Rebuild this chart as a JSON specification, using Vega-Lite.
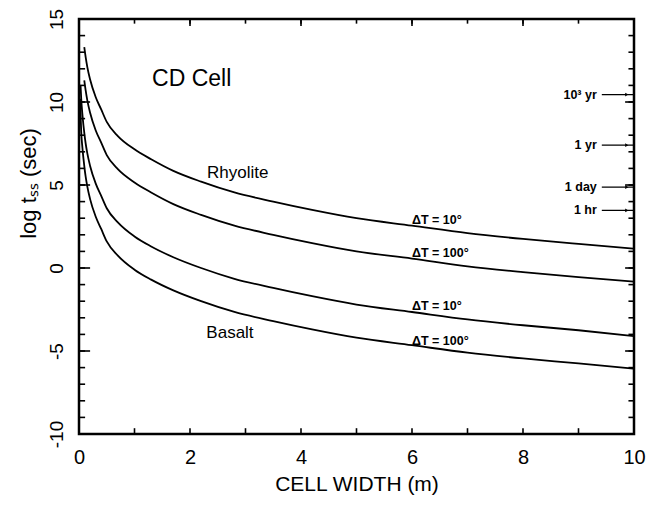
{
  "$schema": "https://vega.github.io/schema/vega-lite/v6.json",
  "width": 555,
  "height": 415,
  "autosize": "none",
  "padding": {"left": 79, "top": 19, "right": 20, "bottom": 71},
  "background": "white",
  "config": {
    "view": {"stroke": "black", "strokeWidth": 2.5},
    "font": "Liberation Sans",
    "axis": {"grid": false, "domain": false, "ticks": false, "labelColor": "black", "titleColor": "black", "labelFlush": false, "labelOverlap": false}
  },
  "datasets": {
    "curves": [
      {"series": "R10", "x": 0.095, "y": 13.3}, {"series": "R10", "x": 0.12, "y": 12.7}, {"series": "R10", "x": 0.15, "y": 12.1}, {"series": "R10", "x": 0.2, "y": 11.35}, {"series": "R10", "x": 0.3, "y": 10.3}, {"series": "R10", "x": 0.4, "y": 9.55}, {"series": "R10", "x": 0.5, "y": 8.8}, {"series": "R10", "x": 0.7, "y": 7.95}, {"series": "R10", "x": 1.0, "y": 7.15}, {"series": "R10", "x": 1.3, "y": 6.55}, {"series": "R10", "x": 1.7, "y": 5.85}, {"series": "R10", "x": 2.2, "y": 5.2}, {"series": "R10", "x": 2.8, "y": 4.55}, {"series": "R10", "x": 3.5, "y": 4.0}, {"series": "R10", "x": 4.2, "y": 3.5}, {"series": "R10", "x": 5, "y": 3.0}, {"series": "R10", "x": 6, "y": 2.55}, {"series": "R10", "x": 7, "y": 2.1}, {"series": "R10", "x": 8, "y": 1.75}, {"series": "R10", "x": 9, "y": 1.45}, {"series": "R10", "x": 10, "y": 1.17},
      {"series": "R100", "x": 0.095, "y": 11.3}, {"series": "R100", "x": 0.12, "y": 10.7}, {"series": "R100", "x": 0.15, "y": 10.1}, {"series": "R100", "x": 0.2, "y": 9.35}, {"series": "R100", "x": 0.3, "y": 8.3}, {"series": "R100", "x": 0.4, "y": 7.55}, {"series": "R100", "x": 0.5, "y": 6.8}, {"series": "R100", "x": 0.7, "y": 5.95}, {"series": "R100", "x": 1.0, "y": 5.15}, {"series": "R100", "x": 1.3, "y": 4.55}, {"series": "R100", "x": 1.7, "y": 3.85}, {"series": "R100", "x": 2.2, "y": 3.2}, {"series": "R100", "x": 2.8, "y": 2.55}, {"series": "R100", "x": 3.5, "y": 2.0}, {"series": "R100", "x": 4.2, "y": 1.5}, {"series": "R100", "x": 5, "y": 1.0}, {"series": "R100", "x": 6, "y": 0.57}, {"series": "R100", "x": 7, "y": 0.1}, {"series": "R100", "x": 8, "y": -0.25}, {"series": "R100", "x": 9, "y": -0.55}, {"series": "R100", "x": 10, "y": -0.82},
      {"series": "B10", "x": 0.028, "y": 11.0}, {"series": "B10", "x": 0.04, "y": 10.2}, {"series": "B10", "x": 0.06, "y": 9.3}, {"series": "B10", "x": 0.08, "y": 8.6}, {"series": "B10", "x": 0.1, "y": 8.0}, {"series": "B10", "x": 0.12, "y": 7.5}, {"series": "B10", "x": 0.15, "y": 6.9}, {"series": "B10", "x": 0.2, "y": 6.15}, {"series": "B10", "x": 0.3, "y": 5.1}, {"series": "B10", "x": 0.4, "y": 4.35}, {"series": "B10", "x": 0.5, "y": 3.6}, {"series": "B10", "x": 0.7, "y": 2.75}, {"series": "B10", "x": 1.0, "y": 1.9}, {"series": "B10", "x": 1.3, "y": 1.3}, {"series": "B10", "x": 1.7, "y": 0.65}, {"series": "B10", "x": 2.2, "y": 0.0}, {"series": "B10", "x": 2.8, "y": -0.65}, {"series": "B10", "x": 3.5, "y": -1.2}, {"series": "B10", "x": 4.2, "y": -1.7}, {"series": "B10", "x": 5, "y": -2.2}, {"series": "B10", "x": 6, "y": -2.65}, {"series": "B10", "x": 7, "y": -3.1}, {"series": "B10", "x": 8, "y": -3.45}, {"series": "B10", "x": 9, "y": -3.75}, {"series": "B10", "x": 10, "y": -4.1},
      {"series": "B100", "x": 0.02, "y": 10.2}, {"series": "B100", "x": 0.03, "y": 9.1}, {"series": "B100", "x": 0.04, "y": 8.2}, {"series": "B100", "x": 0.06, "y": 7.3}, {"series": "B100", "x": 0.08, "y": 6.6}, {"series": "B100", "x": 0.1, "y": 6.0}, {"series": "B100", "x": 0.12, "y": 5.5}, {"series": "B100", "x": 0.15, "y": 4.9}, {"series": "B100", "x": 0.2, "y": 4.15}, {"series": "B100", "x": 0.3, "y": 3.1}, {"series": "B100", "x": 0.4, "y": 2.35}, {"series": "B100", "x": 0.5, "y": 1.6}, {"series": "B100", "x": 0.7, "y": 0.75}, {"series": "B100", "x": 1.0, "y": -0.1}, {"series": "B100", "x": 1.3, "y": -0.7}, {"series": "B100", "x": 1.7, "y": -1.35}, {"series": "B100", "x": 2.2, "y": -2.0}, {"series": "B100", "x": 2.8, "y": -2.65}, {"series": "B100", "x": 3.5, "y": -3.2}, {"series": "B100", "x": 4.2, "y": -3.7}, {"series": "B100", "x": 5, "y": -4.2}, {"series": "B100", "x": 6, "y": -4.65}, {"series": "B100", "x": 7, "y": -5.1}, {"series": "B100", "x": 8, "y": -5.45}, {"series": "B100", "x": 9, "y": -5.75}, {"series": "B100", "x": 10, "y": -6.07}
    ],
    "xticks": [{"v": 1}, {"v": 2}, {"v": 3}, {"v": 4}, {"v": 5}, {"v": 6}, {"v": 7}, {"v": 8}, {"v": 9}],
    "yticks": [{"v": -9}, {"v": -8}, {"v": -7}, {"v": -6}, {"v": -5}, {"v": -4}, {"v": -3}, {"v": -2}, {"v": -1}, {"v": 0}, {"v": 1}, {"v": 2}, {"v": 3}, {"v": 4}, {"v": 5}, {"v": 6}, {"v": 7}, {"v": 8}, {"v": 9}, {"v": 10}, {"v": 11}, {"v": 12}, {"v": 13}, {"v": 14}],
    "title": [{"text": "CD Cell", "x": 2.03, "y": 11.4}],
    "rocks": [{"text": "Rhyolite", "x": 2.86, "y": 5.7}, {"text": "Basalt", "x": 2.72, "y": -3.9}],
    "dt": [
      {"text": "ΔT = 10°", "x": 6.0, "y": 2.9},
      {"text": "ΔT = 100°", "x": 6.0, "y": 0.9},
      {"text": "ΔT = 10°", "x": 6.0, "y": -2.27},
      {"text": "ΔT = 100°", "x": 6.0, "y": -4.37}
    ],
    "times": [
      {"text": "10³ yr", "y": 10.45},
      {"text": "1 yr", "y": 7.4},
      {"text": "1 day", "y": 4.87},
      {"text": "1 hr", "y": 3.47}
    ]
  },
  "layer": [
    {
      "data": {"name": "yticks"},
      "mark": {"type": "rule", "color": "black", "strokeWidth": 1.6},
      "encoding": {
        "y": {"field": "v", "type": "quantitative", "scale": {"domain": [-10, 15], "nice": false, "zero": false}, "axis": null},
        "x": {"datum": 0, "type": "quantitative", "scale": {"domain": [0, 10], "nice": false, "zero": false}, "axis": null},
        "x2": {"datum": 0.11}
      }
    },
    {
      "data": {"name": "yticks"},
      "transform": [{"filter": "datum.v % 5 == 0"}],
      "mark": {"type": "rule", "color": "black", "strokeWidth": 1.6},
      "encoding": {
        "y": {"field": "v", "type": "quantitative", "axis": null},
        "x": {"datum": 0, "type": "quantitative", "axis": null},
        "x2": {"datum": 0.2}
      }
    },
    {
      "data": {"name": "yticks"},
      "mark": {"type": "rule", "color": "black", "strokeWidth": 1.6},
      "encoding": {
        "y": {"field": "v", "type": "quantitative", "axis": null},
        "x": {"datum": 10, "type": "quantitative", "axis": null},
        "x2": {"datum": 9.9}
      }
    },
    {
      "data": {"name": "yticks"},
      "transform": [{"filter": "datum.v % 5 == 0"}],
      "mark": {"type": "rule", "color": "black", "strokeWidth": 1.6},
      "encoding": {
        "y": {"field": "v", "type": "quantitative", "axis": null},
        "x": {"datum": 10, "type": "quantitative", "axis": null},
        "x2": {"datum": 9.84}
      }
    },
    {
      "data": {"name": "xticks"},
      "mark": {"type": "rule", "color": "black", "strokeWidth": 1.6},
      "encoding": {
        "x": {"field": "v", "type": "quantitative", "axis": null},
        "y": {"datum": -10, "type": "quantitative", "axis": null},
        "y2": {"datum": -9.65}
      }
    },
    {
      "data": {"name": "xticks"},
      "mark": {"type": "rule", "color": "black", "strokeWidth": 1.6},
      "encoding": {
        "x": {"field": "v", "type": "quantitative", "axis": null},
        "y": {"datum": 15, "type": "quantitative", "axis": null},
        "y2": {"datum": 14.72}
      }
    },
    {
      "data": {"name": "xticks"},
      "transform": [{"filter": "datum.v % 2 == 0"}],
      "mark": {"type": "rule", "color": "black", "strokeWidth": 1.6},
      "encoding": {
        "x": {"field": "v", "type": "quantitative", "axis": null},
        "y": {"datum": 15, "type": "quantitative", "axis": null},
        "y2": {"datum": 14.58}
      }
    },
    {
      "data": {"name": "curves"},
      "mark": {"type": "line", "color": "black", "strokeWidth": 1.8, "interpolate": "monotone", "clip": true},
      "encoding": {
        "x": {"field": "x", "type": "quantitative",
          "axis": {"orient": "bottom", "values": [0,2,4,6,8,10], "labelFontSize": 20, "labelPadding": 13, "title": "CELL WIDTH  (m)", "titleFontSize": 21, "titleFontWeight": "normal", "titlePadding": 6}},
        "y": {"field": "y", "type": "quantitative",
          "axis": {"orient": "left", "values": [-10,-5,0,5,10,15], "labelAngle": 270, "labelAlign": "center", "labelBaseline": "bottom", "labelFontSize": 19, "labelPadding": 13, "labelExpr": "replace(datum.label, '\u2212', '-')", "title": "log tₛₛ  (sec)", "titleFontSize": 22, "titleFontWeight": "normal", "titleAngle": 270, "titleX": -51, "titleY": 164, "titleAlign": "center", "titleBaseline": "middle"}},
        "detail": {"field": "series"}
      }
    },
    {
      "data": {"name": "title"},
      "mark": {"type": "text", "fontSize": 23, "color": "black", "align": "center", "baseline": "middle"},
      "encoding": {
        "x": {"field": "x", "type": "quantitative", "axis": null},
        "y": {"field": "y", "type": "quantitative", "axis": null},
        "text": {"field": "text"}
      }
    },
    {
      "data": {"name": "rocks"},
      "mark": {"type": "text", "fontSize": 17, "color": "black", "align": "center", "baseline": "middle"},
      "encoding": {
        "x": {"field": "x", "type": "quantitative", "axis": null},
        "y": {"field": "y", "type": "quantitative", "axis": null},
        "text": {"field": "text"}
      }
    },
    {
      "data": {"name": "dt"},
      "mark": {"type": "text", "fontSize": 12.5, "fontWeight": "bold", "color": "black", "align": "left", "baseline": "middle"},
      "encoding": {
        "x": {"field": "x", "type": "quantitative", "axis": null},
        "y": {"field": "y", "type": "quantitative", "axis": null},
        "text": {"field": "text"}
      }
    },
    {
      "data": {"name": "times"},
      "mark": {"type": "rule", "color": "black", "strokeWidth": 1.3},
      "encoding": {
        "x": {"datum": 9.42, "type": "quantitative", "axis": null},
        "x2": {"datum": 10},
        "y": {"field": "y", "type": "quantitative", "axis": null}
      }
    },
    {
      "data": {"name": "times"},
      "mark": {"type": "point", "shape": "triangle-right", "filled": true, "color": "black", "size": 14, "opacity": 1},
      "encoding": {
        "x": {"datum": 9.87, "type": "quantitative", "axis": null},
        "y": {"field": "y", "type": "quantitative", "axis": null}
      }
    },
    {
      "data": {"name": "times"},
      "mark": {"type": "text", "fontSize": 12.5, "fontWeight": "bold", "color": "black", "align": "right", "baseline": "middle"},
      "encoding": {
        "x": {"datum": 9.33, "type": "quantitative", "axis": null},
        "y": {"field": "y", "type": "quantitative", "axis": null},
        "text": {"field": "text"}
      }
    }
  ],
  "resolve": {"axis": {"x": "independent", "y": "independent"}}
}
